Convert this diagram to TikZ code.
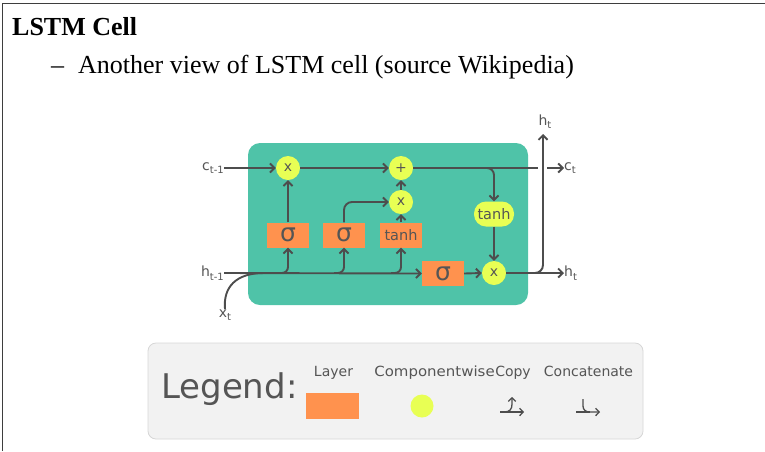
\documentclass[tikz,border=0pt]{standalone}
\usepackage{fontspec}
\setmainfont{Liberation Serif}
\newfontfamily\diagfont{DejaVu Sans}
\usetikzlibrary{arrows.meta}

\definecolor{cellgreen}{RGB}{79,195,168}
\definecolor{layerorange}{RGB}{255,146,78}
\definecolor{opyellow}{RGB}{232,255,84}
\definecolor{wire}{RGB}{77,77,77}
\definecolor{inktext}{RGB}{85,85,85}
\definecolor{legendbg}{RGB}{242,242,242}
\definecolor{legendedge}{RGB}{214,214,214}
\definecolor{framegray}{RGB}{62,62,62}

% lowered, smaller subscript for the signal labels
\newcommand\lowsub[1]{\raisebox{-3.5pt}{\fontsize{10}{10}\selectfont #1}}

\begin{document}
\begin{tikzpicture}[x=1pt,y=-1pt,
  font=\diagfont,
  slidetext/.style={anchor=base west, inner sep=0pt, text=black,
    font=\rmfamily\fontsize{26}{30}\selectfont},
  layerbox/.style={rectangle, fill=layerorange, minimum width=42pt, minimum height=25pt,
    inner sep=0pt, text=inktext},
  sigmabox/.style={layerbox, font=\diagfont\fontsize{25}{25}\selectfont},
  tanhbox/.style={layerbox, font=\diagfont\fontsize{14.5}{14.5}\selectfont},
  pointwise/.style={circle, fill=opyellow, minimum size=24pt, inner sep=0pt, text=inktext,
    font=\diagfont\fontsize{14}{14}\selectfont},
  tanhop/.style={rectangle, rounded corners=12pt, fill=opyellow, minimum width=40pt,
    minimum height=25pt, inner sep=0pt, text=inktext, font=\diagfont\fontsize{14.5}{14.5}\selectfont},
  signal/.style={inner sep=0pt, text=inktext, font=\diagfont\fontsize{14}{14}\selectfont},
  wireline/.style={draw=wire, line width=1.9pt},
  wirearrow/.style={wireline, -{Straight Barb[length=4.5pt,width=9pt]}},
  iconline/.style={draw=wire, line width=1.3pt},
  iconarrow/.style={iconline, -{Straight Barb[length=3.5pt,width=7.5pt]}},
  legendlabel/.style={inner sep=0pt, text=inktext, font=\diagfont\fontsize{14}{14}\selectfont},
]
\useasboundingbox (0,0) rectangle (765,451);

% slide frame edges
\draw[framegray, line width=1.5pt] (2.5,451) -- (2.5,3.5) -- (765,3.5);

% heading and bullet
\node[slidetext] (title) at (12,35) {\bfseries LSTM Cell};
\node[slidetext] (dash) at (51,73) {–};
\node[slidetext] (bullet) at (78,73) {Another view of LSTM cell (source Wikipedia)};

% cell body
\fill[cellgreen, rounded corners=12pt] (248,143) rectangle (528,305);

% gates and pointwise operations
\node[pointwise] (fmul) at (288,168) {x};
\node[pointwise] (add)  at (401,168) {+};
\node[pointwise] (imul) at (401,202) {x};
\node[tanhop]    (ctanh) at (494,214) {tanh};
\node[pointwise] (omul) at (494,273) {x};

\node[sigmabox] (fgate) at (288,235) {σ};
\node[sigmabox] (igate) at (344,235) {σ};
\node[tanhbox]  (cand)  at (401,235) {tanh};
\node[sigmabox] (ogate) at (443,273.5) {σ};

% signal labels
\node[signal, anchor=east] (cprev) at (224,168) {c\lowsub{t-1}};
\node[signal, anchor=east] (hprev) at (224,273) {h\lowsub{t-1}};
\node[signal] (xin) at (225,315) {x\lowsub{t}};
\node[signal, anchor=west] (cnext) at (564,168) {c\lowsub{t}};
\node[signal, anchor=west] (hnext) at (564,273) {h\lowsub{t}};
\node[signal, anchor=south] (htop) at (545,129) {h\lowsub{t}};

% junction points on the wires
\coordinate (cgapL) at (538,168);
\coordinate (cgapR) at (547,168);
\coordinate (cbranch) at (482,168);
\coordinate (hbranch) at (528,273);
\coordinate (xjoin) at (264,273);
\coordinate (fb) at (278,273);
\coordinate (ib) at (334,273);
\coordinate (gb) at (391,273);
\coordinate (htip) at (543,134);

% cell state line
\draw[wirearrow] (cprev.east) -- (fmul.west);
\draw[wirearrow] (fmul.east) -- (add.west);
\draw[wireline] (add.east) -- (cgapL);
\draw[wirearrow] (cgapR) -- (cnext.west);
\draw[wirearrow, rounded corners=7pt] (cbranch) -| (ctanh.north);

% gate outputs
\draw[wirearrow] (fgate.north) -- (fmul.south);
\draw[wirearrow, rounded corners=8pt] (igate.north) |- (imul.west);
\draw[wirearrow] (cand.north) -- (imul.south);
\draw[wirearrow] (imul.north) -- (add.south);
\draw[wirearrow] (ctanh.south) -- (omul.north);
\draw[wirearrow] (ogate.east) -- (omul.west);

% hidden state and input
\draw[wirearrow] (hprev.east) -- (ogate.west);
\draw[wireline] (xin.north) .. controls (223,287) and (236,273) .. (xjoin);
\draw[wirearrow, rounded corners=6pt] (fb) -| (fgate.south);
\draw[wirearrow, rounded corners=6pt] (ib) -| (igate.south);
\draw[wirearrow, rounded corners=6pt] (gb) -| (cand.south);

% output
\draw[wirearrow] (omul.east) -- (hnext.west);
\draw[wirearrow, rounded corners=8pt] (hbranch) -| (htip);

% legend panel
\draw[legendedge, fill=legendbg, line width=0.8pt, rounded corners=8pt]
  (148,343) rectangle (643,439);
\node[anchor=base west, inner sep=0pt, text=inktext,
  font=\diagfont\fontsize{34}{34}\selectfont] (legendtitle) at (161,398) {Legend:};

\node[legendlabel, anchor=base] (lablayer) at (333.5,376) {Layer};
\node[legendlabel, anchor=base] (labpw) at (434.5,376) {\scalebox{1.07}[1]{Componentwise}};
\node[legendlabel, anchor=base] (labcopy) at (513,376) {Copy};
\node[legendlabel, anchor=base] (labcat) at (588.5,376) {Concatenate};

\fill[layerorange] (306,393) rectangle (359,419);
\fill[opyellow] (422,406) circle (11.5pt);

% copy icon
\draw[iconarrow] (500,412) -- (524,412);
\draw[iconarrow] (504,412) .. controls (510,412) and (512,409) .. (512,404) -- (512,397);

% concatenate icon
\draw[iconline] (576,412) -- (590,412);
\draw[iconarrow] (583,399) -- (583,406) .. controls (583,410) and (586,412) .. (590,412) -- (600,412);
\end{tikzpicture}
\end{document}
